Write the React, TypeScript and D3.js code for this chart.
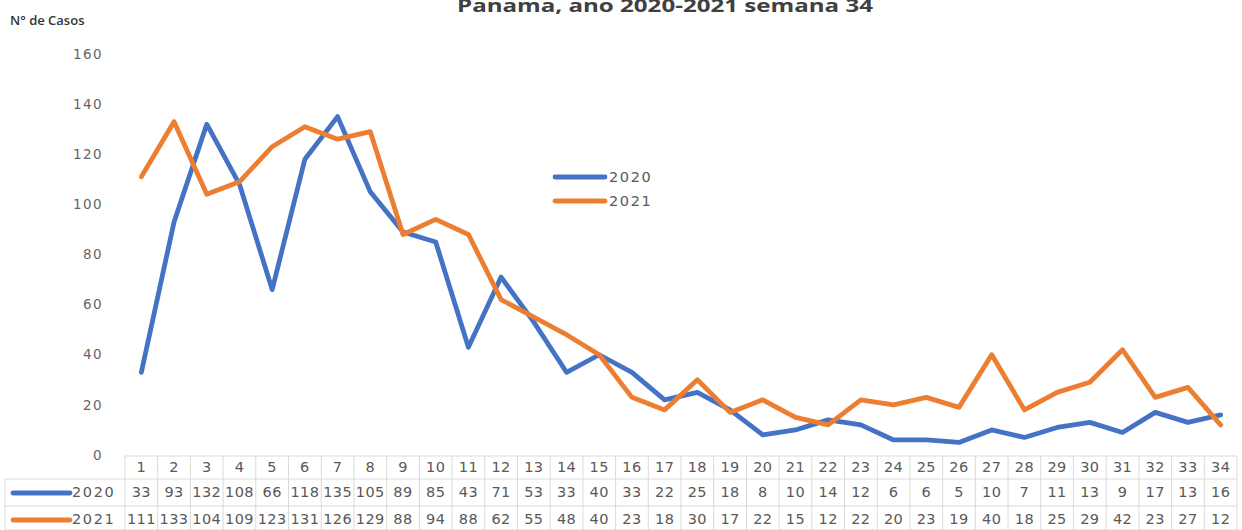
import React, { useRef, useEffect } from 'react'
import * as d3 from 'd3'

const weeks = d3.range(1, 35).map(String)
const cases2020 = [33, 93, 132, 108, 66, 118, 135, 105, 89, 85, 43, 71, 53, 33, 40, 33, 22, 25, 18, 8, 10, 14, 12, 6, 6, 5, 10, 7, 11, 13, 9, 17, 13, 16]
const cases2021 = [111, 133, 104, 109, 123, 131, 126, 129, 88, 94, 88, 62, 55, 48, 40, 23, 18, 30, 17, 22, 15, 12, 22, 20, 23, 19, 40, 18, 25, 29, 42, 23, 27, 12]
const yTicks = [0, 20, 40, 60, 80, 100, 120, 140, 160]
const seriesNames = ['2020', '2021']
const title = 'Panama, ano 2020-2021  semana 34'

const W = 1242
const H = 530
const colors = ['#4472C4', '#ED7D31']
const font = '"DejaVu Sans", Verdana, sans-serif'

export default function App() {
  const ref = useRef<SVGSVGElement>(null)

  useEffect(() => {
    const svg = d3.select(ref.current)
    svg.selectAll('*').remove()

    const x = d3.scaleBand<string>().domain(weeks).range([125, 1237])
    const y = d3.scaleLinear().domain([0, 160]).range([455, 54])
    const cx = (w: string) => (x(w) as number) + x.bandwidth() / 2

    // title + y label
    svg.append('text')
      .attr('x', 457).attr('y', 12)
      .attr('textLength', 416).attr('lengthAdjust', 'spacingAndGlyphs')
      .attr('font-family', '"Open Sans", sans-serif').attr('font-weight', 'bold')
      .attr('font-size', 17).attr('fill', '#404040')
      .text(title)
    svg.append('text')
      .attr('x', 10).attr('y', 25)
      .attr('font-family', '"Open Sans", sans-serif').attr('font-weight', 600)
      .attr('font-size', 13).attr('fill', '#333')
      .text('N° de Casos')

    // y tick labels
    svg.append('g').selectAll('text').data(yTicks).join('text')
      .attr('x', 103).attr('y', d => y(d)).attr('dy', '0.35em')
      .attr('text-anchor', 'end')
      .attr('font-family', font).attr('font-size', 13.5).attr('letter-spacing', 1.4)
      .attr('fill', '#666')
      .text(d => d)

    // lines
    const series = [cases2020, cases2021]
    const line = d3.line<number>().x((d, i) => cx(weeks[i])).y(d => y(d))
    series.forEach((vals, k) => {
      svg.append('path')
        .datum(vals)
        .attr('d', line)
        .attr('fill', 'none')
        .attr('stroke', colors[k])
        .attr('stroke-width', 4.8)
        .attr('stroke-linejoin', 'round')
        .attr('stroke-linecap', 'round')
    })

    // legend
    seriesNames.forEach((name, k) => {
      const ly = 177 + k * 24
      svg.append('line')
        .attr('x1', 555).attr('x2', 605).attr('y1', ly).attr('y2', ly)
        .attr('stroke', colors[k]).attr('stroke-width', 4.8).attr('stroke-linecap', 'round')
      svg.append('text')
        .attr('x', 609).attr('y', ly).attr('dy', '0.35em')
        .attr('font-family', font).attr('font-size', 14.5).attr('letter-spacing', 1.6)
        .attr('fill', '#595959')
        .text(name)
    })

    // data table
    const rows = [456, 479, 506, 530]
    const grid = svg.append('g').attr('stroke', '#d9d9d9').attr('stroke-width', 1)
    grid.append('line').attr('x1', 125).attr('x2', 1237).attr('y1', rows[0]).attr('y2', rows[0])
    rows.slice(1).forEach(r => {
      grid.append('line').attr('x1', 5).attr('x2', 1237).attr('y1', r).attr('y2', r)
    })
    grid.append('line').attr('x1', 5).attr('x2', 5).attr('y1', rows[1]).attr('y2', rows[3])
    weeks.forEach(w => {
      grid.append('line').attr('x1', x(w) as number).attr('x2', x(w) as number).attr('y1', rows[0]).attr('y2', rows[3])
    })
    grid.append('line').attr('x1', 1237).attr('x2', 1237).attr('y1', rows[0]).attr('y2', rows[3])

    const cellText = (vals: (string | number)[], ry: number) => {
      svg.append('g').selectAll('text').data(vals).join('text')
        .attr('x', (d, i) => cx(weeks[i])).attr('y', ry).attr('dy', '0.35em')
        .attr('text-anchor', 'middle')
        .attr('font-family', font).attr('font-size', 14.5).attr('letter-spacing', 0.4)
        .attr('fill', '#595959')
        .text(d => d)
    }
    cellText(weeks, 467)
    cellText(cases2020, 492)
    cellText(cases2021, 519)

    seriesNames.forEach((name, k) => {
      const ry = k === 0 ? 493 : 520
      svg.append('line')
        .attr('x1', 13).attr('x2', 70).attr('y1', ry).attr('y2', ry)
        .attr('stroke', colors[k]).attr('stroke-width', 4.8).attr('stroke-linecap', 'round')
      svg.append('text')
        .attr('x', 72).attr('y', ry - 1).attr('dy', '0.35em')
        .attr('font-family', font).attr('font-size', 14.5).attr('letter-spacing', 1.6)
        .attr('fill', '#595959')
        .text(name)
    })
  }, [])

  return (
    <svg
      ref={ref}
      width={W}
      height={H}
      style={{ position: 'absolute', left: 0, top: 0, background: '#fff' }}
    />
  )
}
